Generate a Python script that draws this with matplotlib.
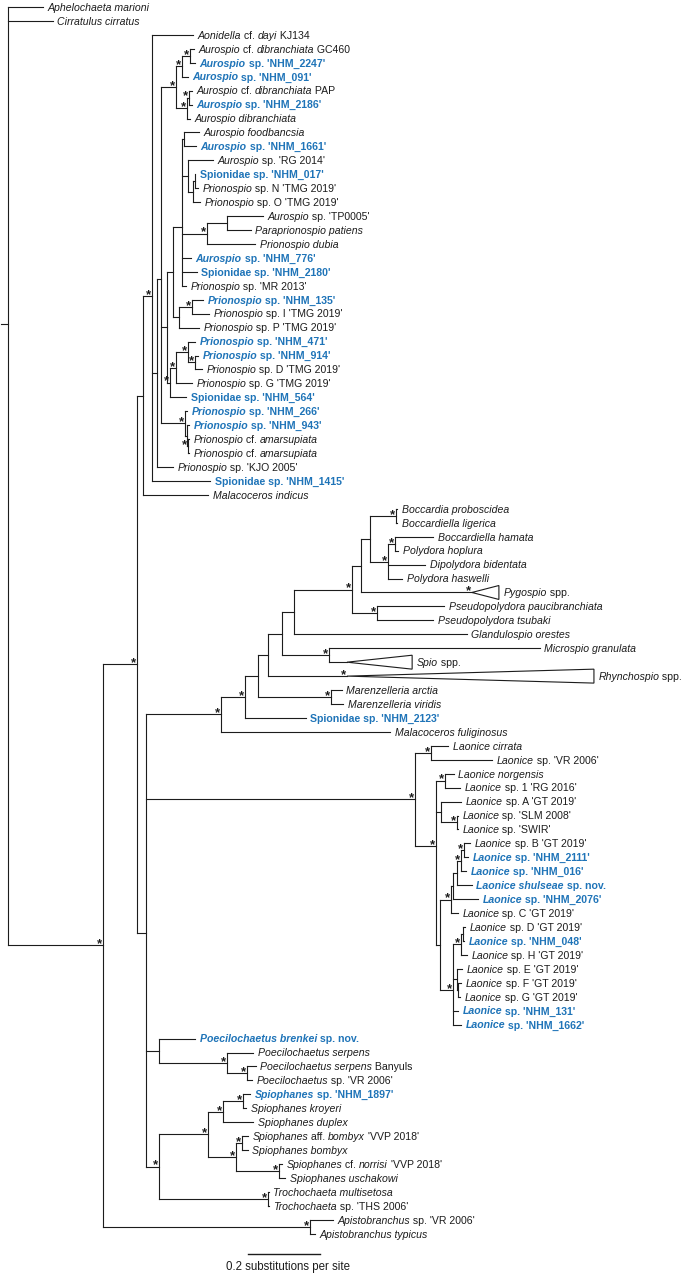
import matplotlib
matplotlib.use("Agg")
import matplotlib.pyplot as plt
import numpy as np
from matplotlib.collections import LineCollection
from matplotlib.patches import Polygon
from matplotlib.transforms import IdentityTransform

# tip labels, top to bottom; {...} marks italic parts
TIP_LABELS = [
    "{Aphelochaeta marioni}", "{Cirratulus cirratus}", "{Aonidella} cf. {dayi} KJ134",
    "{Aurospio} cf. {dibranchiata} GC460", "{Aurospio} sp. 'NHM_2247'", "{Aurospio} sp. 'NHM_091'",
    "{Aurospio} cf. {dibranchiata} PAP", "{Aurospio} sp. 'NHM_2186'", "{Aurospio dibranchiata}",
    "{Aurospio foodbancsia}", "{Aurospio} sp. 'NHM_1661'", "{Aurospio} sp. 'RG 2014'",
    "Spionidae sp. 'NHM_017'", "{Prionospio} sp. N 'TMG 2019'", "{Prionospio} sp. O 'TMG 2019'",
    "{Aurospio} sp. 'TP0005'", "{Paraprionospio patiens}", "{Prionospio dubia}",
    "{Aurospio} sp. 'NHM_776'", "Spionidae sp. 'NHM_2180'", "{Prionospio} sp. 'MR 2013'",
    "{Prionospio} sp. 'NHM_135'", "{Prionospio} sp. I 'TMG 2019'", "{Prionospio} sp. P 'TMG 2019'",
    "{Prionospio} sp. 'NHM_471'", "{Prionospio} sp. 'NHM_914'", "{Prionospio} sp. D 'TMG 2019'",
    "{Prionospio} sp. G 'TMG 2019'", "Spionidae sp. 'NHM_564'", "{Prionospio} sp. 'NHM_266'",
    "{Prionospio} sp. 'NHM_943'", "{Prionospio} cf. {amarsupiata}", "{Prionospio} cf. {amarsupiata}",
    "{Prionospio} sp. 'KJO 2005'", "Spionidae sp. 'NHM_1415'", "{Malacoceros indicus}",
    "{Boccardia proboscidea}", "{Boccardiella ligerica}", "{Boccardiella hamata}",
    "{Polydora hoplura}", "{Dipolydora bidentata}", "{Polydora haswelli}",
    "{Pygospio} spp.", "{Pseudopolydora paucibranchiata}", "{Pseudopolydora tsubaki}",
    "{Glandulospio orestes}", "{Microspio granulata}", "{Spio} spp.",
    "{Rhynchospio} spp.", "{Marenzelleria arctia}", "{Marenzelleria viridis}",
    "Spionidae sp. 'NHM_2123'", "{Malacoceros fuliginosus}", "{Laonice cirrata}",
    "{Laonice} sp. 'VR 2006'", "{Laonice norgensis}", "{Laonice} sp. 1 'RG 2016'",
    "{Laonice} sp. A 'GT 2019'", "{Laonice} sp. 'SLM 2008'", "{Laonice} sp. 'SWIR'",
    "{Laonice} sp. B 'GT 2019'", "{Laonice} sp. 'NHM_2111'", "{Laonice} sp. 'NHM_016'",
    "{Laonice shulseae} sp. nov.", "{Laonice} sp. 'NHM_2076'", "{Laonice} sp. C 'GT 2019'",
    "{Laonice} sp. D 'GT 2019'", "{Laonice} sp. 'NHM_048'", "{Laonice} sp. H 'GT 2019'",
    "{Laonice} sp. E 'GT 2019'", "{Laonice} sp. F 'GT 2019'", "{Laonice} sp. G 'GT 2019'",
    "{Laonice} sp. 'NHM_131'", "{Laonice} sp. 'NHM_1662'", "{Poecilochaetus brenkei} sp. nov.",
    "{Poecilochaetus serpens}", "{Poecilochaetus serpens} Banyuls", "{Poecilochaetus} sp. 'VR 2006'",
    "{Spiophanes} sp. 'NHM_1897'", "{Spiophanes kroyeri}", "{Spiophanes duplex}",
    "{Spiophanes} aff. {bombyx} 'VVP 2018'", "{Spiophanes bombyx}",
    "{Spiophanes} cf. {norrisi} 'VVP 2018'", "{Spiophanes uschakowi}",
    "{Trochochaeta multisetosa}", "{Trochochaeta} sp. 'THS 2006'",
    "{Apistobranchus} sp. 'VR 2006'", "{Apistobranchus typicus}",
]

# distance of each tip from the root (substitutions per site)
TIP_DEPTH = [
    0.099, 0.126, 0.515, 0.518, 0.521, 0.501, 0.512, 0.512, 0.507, 0.532,
    0.524, 0.571, 0.521, 0.529, 0.535, 0.710, 0.676, 0.688, 0.510, 0.526,
    0.496, 0.543, 0.560, 0.532, 0.521, 0.529, 0.540, 0.512, 0.496, 0.499,
    0.504, 0.504, 0.504, 0.460, 0.563, 0.557, 1.082, 1.082, 1.182, 1.085,
    1.160, 1.096, 1.365, 1.213, 1.182, 1.276, 1.479, 1.124, 1.629, 0.929,
    0.932, 0.829, 1.063, 1.224, 1.346, 1.240, 1.257, 1.260, 1.251, 1.251,
    1.285, 1.279, 1.274, 1.290, 1.307, 1.251, 1.271, 1.268, 1.276, 1.263,
    1.260, 1.257, 1.251, 1.260, 0.521, 0.682, 0.690, 0.679, 0.674, 0.663,
    0.682, 0.668, 0.668, 0.763, 0.771, 0.726, 0.726, 0.904, 0.854,
]

# sequences new to the study (blue, bold)
NEW_TIPS = [4, 5, 7, 10, 12, 18, 19, 21, 24, 25, 28, 29, 30, 34, 51,
            61, 62, 63, 64, 67, 72, 73, 74, 78]

# collapsed clades: tip -> (depth of clade node, supported)
COLLAPSED = {42: (1.290, 1), 47: (0.943, 0), 48: (0.943, 1)}

# [node depth, supported (*), children...]; ints are tip indices
TREE = [0.000, 0, 0, 1,
  [0.265, 1,
    [0.360, 1,
      [0.376, 0,
        [0.401, 1,
          2,
          [0.415, 0,
            [0.426, 0,
              [0.468, 1,
                [0.485, 1, [0.507, 1, 3, 4], 5],
                [0.499, 1, [0.504, 1, 6, 7], 8]],
              [0.443, 0,
                [0.460, 0,
                  [0.485, 0,
                    [0.490, 0, 9, 10],
                    [0.501, 0, 11, [0.515, 0, [0.521, 0, 12, 13], 14]],
                    [0.554, 1, [0.610, 0, 15, 16], 17],
                    18, 19, 20],
                  [0.476, 0, [0.513, 1, 21, 22], 23]],
                [0.451, 1, [0.468, 1, [0.501, 1, 24, [0.521, 1, 25, 26]], 27], 28]],
              [0.493, 1, 29, [0.499, 0, 30, [0.501, 1, 31, 32]]]],
            33],
          34],
        35],
      [0.385, 0,
        [0.593, 1,
          [0.660, 1,
            [0.696, 0,
              [0.724, 0,
                [0.763, 0,
                  [0.796, 0,
                    [0.957, 1,
                      [0.982, 0,
                        [1.007, 0,
                          [1.079, 1, 36, 37],
                          [1.057, 1, [1.076, 1, 38, 39], 40, 41]],
                        42],
                      [1.026, 1, 43, 44]],
                    45],
                  [0.893, 1, 46, 47]],
                48],
              [0.899, 1, 49, 50]],
            51],
          52],
        [1.132, 1,
          [1.176, 1, 53, 54],
          [1.190, 1,
            [1.215, 1, 55, 56],
            [1.204, 0, 57, [1.249, 1, 58, 59]],
            [1.201, 0,
              [1.232, 1,
                [1.238, 0, [1.249, 0, [1.260, 1, [1.268, 1, 60, 61], 62], 63], 64],
                65],
              [1.238, 1,
                [1.260, 1, [1.265, 0, 66, 67], 68],
                [1.249, 0, 69, [1.251, 0, 70, 71]],
                72, 73]]]],
        [0.421, 0, 74, [0.610, 1, 75, [0.665, 1, 76, 77]]],
        [0.421, 1,
          [0.557, 1,
            [0.599, 1, [0.654, 1, 78, 79], 80],
            [0.635, 1, [0.651, 1, 81, 82], [0.754, 1, 83, 84]]],
          [0.724, 1, 85, 86]]]],
    [0.840, 1, 87, 88]]]

SCALE_LEN = 0.2
SCALE_LABEL = "0.2 substitutions per site"

INK = "#1c1c1c"
BLUE = "#1f74b8"
FONT = "Liberation Sans"
FS = 7.6
PX = 1 / 360  # one pixel in substitutions per site

segments = []
stars = []
triangles = []


def child_end(child):
    if isinstance(child, int):
        if child in COLLAPSED:
            return COLLAPSED[child][0]
        return TIP_DEPTH[child]
    return child[0]


def walk(node):
    if isinstance(node, int):
        if node in COLLAPSED:
            apex, sup = COLLAPSED[node]
            triangles.append((apex, TIP_DEPTH[node], node))
            if sup:
                stars.append((apex, node))
        return float(node)
    depth, sup = node[0], node[1]
    ys = []
    for child in node[2:]:
        cy = walk(child)
        segments.append([(depth, cy), (child_end(child), cy)])
        ys.append(cy)
    segments.append([(depth, min(ys)), (depth, max(ys))])
    # node sits at the mean height of its children
    y = float(np.mean(ys))
    if sup:
        stars.append((depth, y))
    return y


root_y = walk(TREE)
segments.append([(-6.5 * PX, root_y), (0.0, root_y)])

fig = plt.figure(figsize=(6.85, 12.73), dpi=100)
ax = fig.add_axes([0, 0, 1, 1])
ax.set_xlim(-7.5 * PX, 677.5 * PX)
ax.set_ylim((1273 - 7) / 13.94, -7 / 13.94)
ax.axis("off")

ax.add_collection(LineCollection(segments, colors=INK, linewidths=0.8, capstyle="projecting"))
for apex, base, i in triangles:
    ax.add_patch(Polygon([(apex, i), (base, i - 0.5), (base, i + 0.5)], closed=True,
                         fill=False, edgecolor=INK, linewidth=0.8))

renderer = fig.canvas.get_renderer()
_width_cache = {}


def text_width(s, **kw):
    key = (s, tuple(sorted(kw.items())))
    if key not in _width_cache:
        t1 = fig.text(0, 0, "|" + s + "|", **kw)
        t2 = fig.text(0, 0, "||", **kw)
        w = t1.get_window_extent(renderer).width - t2.get_window_extent(renderer).width
        t1.remove()
        t2.remove()
        _width_cache[key] = w
    return _width_cache[key]


def split_label(label):
    parts = []
    italic = False
    buf = ""
    for ch in label:
        if ch in "{}":
            if buf:
                parts.append((buf, italic))
            buf = ""
            italic = ch == "{"
        else:
            buf += ch
    if buf:
        parts.append((buf, italic))
    return parts


ident = IdentityTransform()
for i, label in enumerate(TIP_LABELS):
    x0, y0 = ax.transData.transform((TIP_DEPTH[i], i))
    x = x0 + 4.5
    y = y0 - 3.8
    new = i in NEW_TIPS
    for seg, italic in split_label(label):
        kw = dict(family=FONT, size=FS, style="italic" if italic else "normal",
                  weight="bold" if new else "normal")
        fig.text(x, y, seg, transform=ident, color=BLUE if new else INK,
                 ha="left", va="baseline", **kw)
        x += text_width(seg, **kw)

for depth, y in stars:
    sx, sy = ax.transData.transform((depth, y))
    fig.text(sx - 3.5, sy - 2.0, "*", transform=ident, ha="center", va="baseline",
             family=FONT, size=9.5, weight="bold", color=INK)

# scale bar
bar_x0 = 0.668
bar_row = (1254 - 7) / 13.94
ax.plot([bar_x0, bar_x0 + SCALE_LEN], [bar_row, bar_row], color=INK, lw=1.0)
ax.text(bar_x0 + SCALE_LEN / 2 + 4 * PX, (1267 - 7) / 13.94, SCALE_LABEL, ha="center", va="center",
        family=FONT, size=8.3, color=INK)

fig.savefig("out.png", dpi=100)
